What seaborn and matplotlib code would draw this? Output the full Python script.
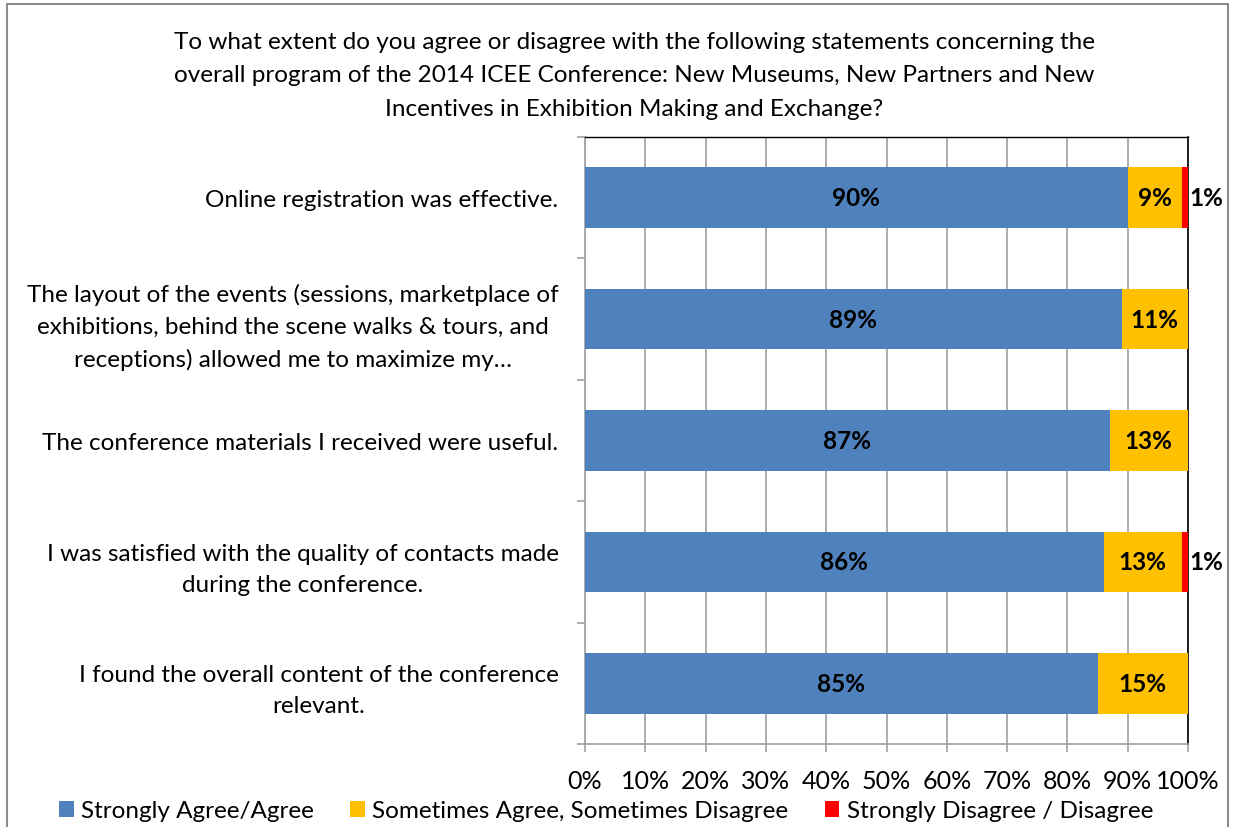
import matplotlib
matplotlib.use("Agg")
import matplotlib.pyplot as plt
import seaborn as sns
import pandas as pd
import numpy as np
from matplotlib.patches import Rectangle, Patch

categories = [
    "Online registration was effective.",
    "The layout of the events (sessions, marketplace of\nexhibitions, behind the scene walks & tours, and\nreceptions) allowed me to maximize my\u2026",
    "The conference materials I received were useful.",
    "I was satisfied with the quality of contacts made\nduring the conference.",
    "I found the overall content of the conference\nrelevant.",
]
agree = [90, 89, 87, 86, 85]
sometimes = [9, 11, 13, 13, 15]
disagree = [1, 0, 0, 1, 0]
series_names = ["Strongly Agree/Agree", "Sometimes Agree, Sometimes Disagree", "Strongly Disagree / Disagree"]
colors = ["#4F81BD", "#FFC000", "#FF0000"]
title = ("To what extent do you agree or disagree with the following statements concerning the\n"
         "overall program of the 2014 ICEE Conference: New Museums, New Partners and New\n"
         "Incentives in Exhibition Making and Exchange?")

sns.set_theme(style="white")
plt.rcParams['font.family'] = ['Lato', 'DejaVu Sans']
plt.rcParams['text.color'] = 'black'
plt.rcParams['xtick.color'] = 'black'
plt.rcParams['ytick.color'] = 'black'

FS = 17.5

df = pd.DataFrame({"cat": categories, "a": agree, "s": sometimes, "d": disagree})
df["c1"] = df["a"]
df["c2"] = df["a"] + df["s"]
df["c3"] = df["a"] + df["s"] + df["d"]

fig = plt.figure(figsize=(12.33, 8.28), dpi=100)
ax = fig.add_axes([585/1233, 1-745/828, (1188-585)/1233, (745-138)/828])

for col, color in zip(["c3", "c2", "c1"], [colors[2], colors[1], colors[0]]):
    sns.barplot(data=df, x=col, y="cat", color=color, orient="h", width=0.5,
                ax=ax, saturation=1, edgecolor="none", linewidth=0, zorder=3)

ax.set_xlim(0, 100)
ax.set_ylim(len(categories) - 0.5, -0.5)
ax.set_xlabel("")
ax.set_ylabel("")
ax.set_xticks(np.arange(0, 101, 10))
ax.set_xticklabels([f"{v}%" for v in range(0, 101, 10)], fontsize=18)
ax.xaxis.grid(True, color="#A0A0A0", linewidth=1.2, zorder=0)
ax.set_axisbelow(True)
ax.set_yticks(np.arange(-0.5, len(categories), 1.0), minor=False)
ax.set_yticklabels([])
ax.set_yticks(np.arange(len(categories)), minor=True)
ax.set_yticklabels(categories, minor=True, fontsize=FS, multialignment="center", linespacing=1.6)
ax.tick_params(axis="y", which="minor", length=0, pad=19, colors="black")
ax.tick_params(axis="y", which="major", length=6, width=1.2, color="#A0A0A0", direction="out", left=True)
ax.tick_params(axis="x", length=6, width=1.2, color="#A0A0A0", labelcolor="black", direction="out", bottom=True, pad=12)

for side in ["left", "bottom"]:
    ax.spines[side].set_color("#A0A0A0")
    ax.spines[side].set_linewidth(1.2)
ax.spines["top"].set_color("black")
ax.spines["top"].set_linewidth(1.0)
ax.spines["right"].set_color("black")
ax.spines["right"].set_linewidth(1.2)

for i in range(len(categories)):
    a, s, d = agree[i], sometimes[i], disagree[i]
    ax.text(a / 2, i, f"{a}%", ha="center", va="center", fontsize=FS, fontweight="bold", color="black", zorder=5)
    if s > 0:
        ax.text(a + s / 2, i, f"{s}%", ha="center", va="center", fontsize=FS, fontweight="bold", color="black", zorder=5)
    if d > 0:
        ax.text(a + s + d + 0.3, i, f"{d}%", ha="left", va="center", fontsize=FS, fontweight="bold", color="black", zorder=5)

fig.text(634/1233, 1-76/828, title, ha="center", va="center", fontsize=FS, linespacing=1.75, color="black")

handles = [Patch(facecolor=c, edgecolor="none") for c in colors]
fig.legend(handles, series_names, loc="center", bbox_to_anchor=(606/1233, 1-812/828),
           ncol=3, frameon=False, fontsize=FS, handlelength=0.6, handleheight=0.6,
           handletextpad=0.3, columnspacing=1.5)

fig.patches.append(Rectangle((7/1233, -0.02), (1228-7)/1233, 1-5/828+0.02, transform=fig.transFigure,
                             fill=False, edgecolor="#8C8C8C", linewidth=1.5))

fig.savefig("out.png", dpi=100)
